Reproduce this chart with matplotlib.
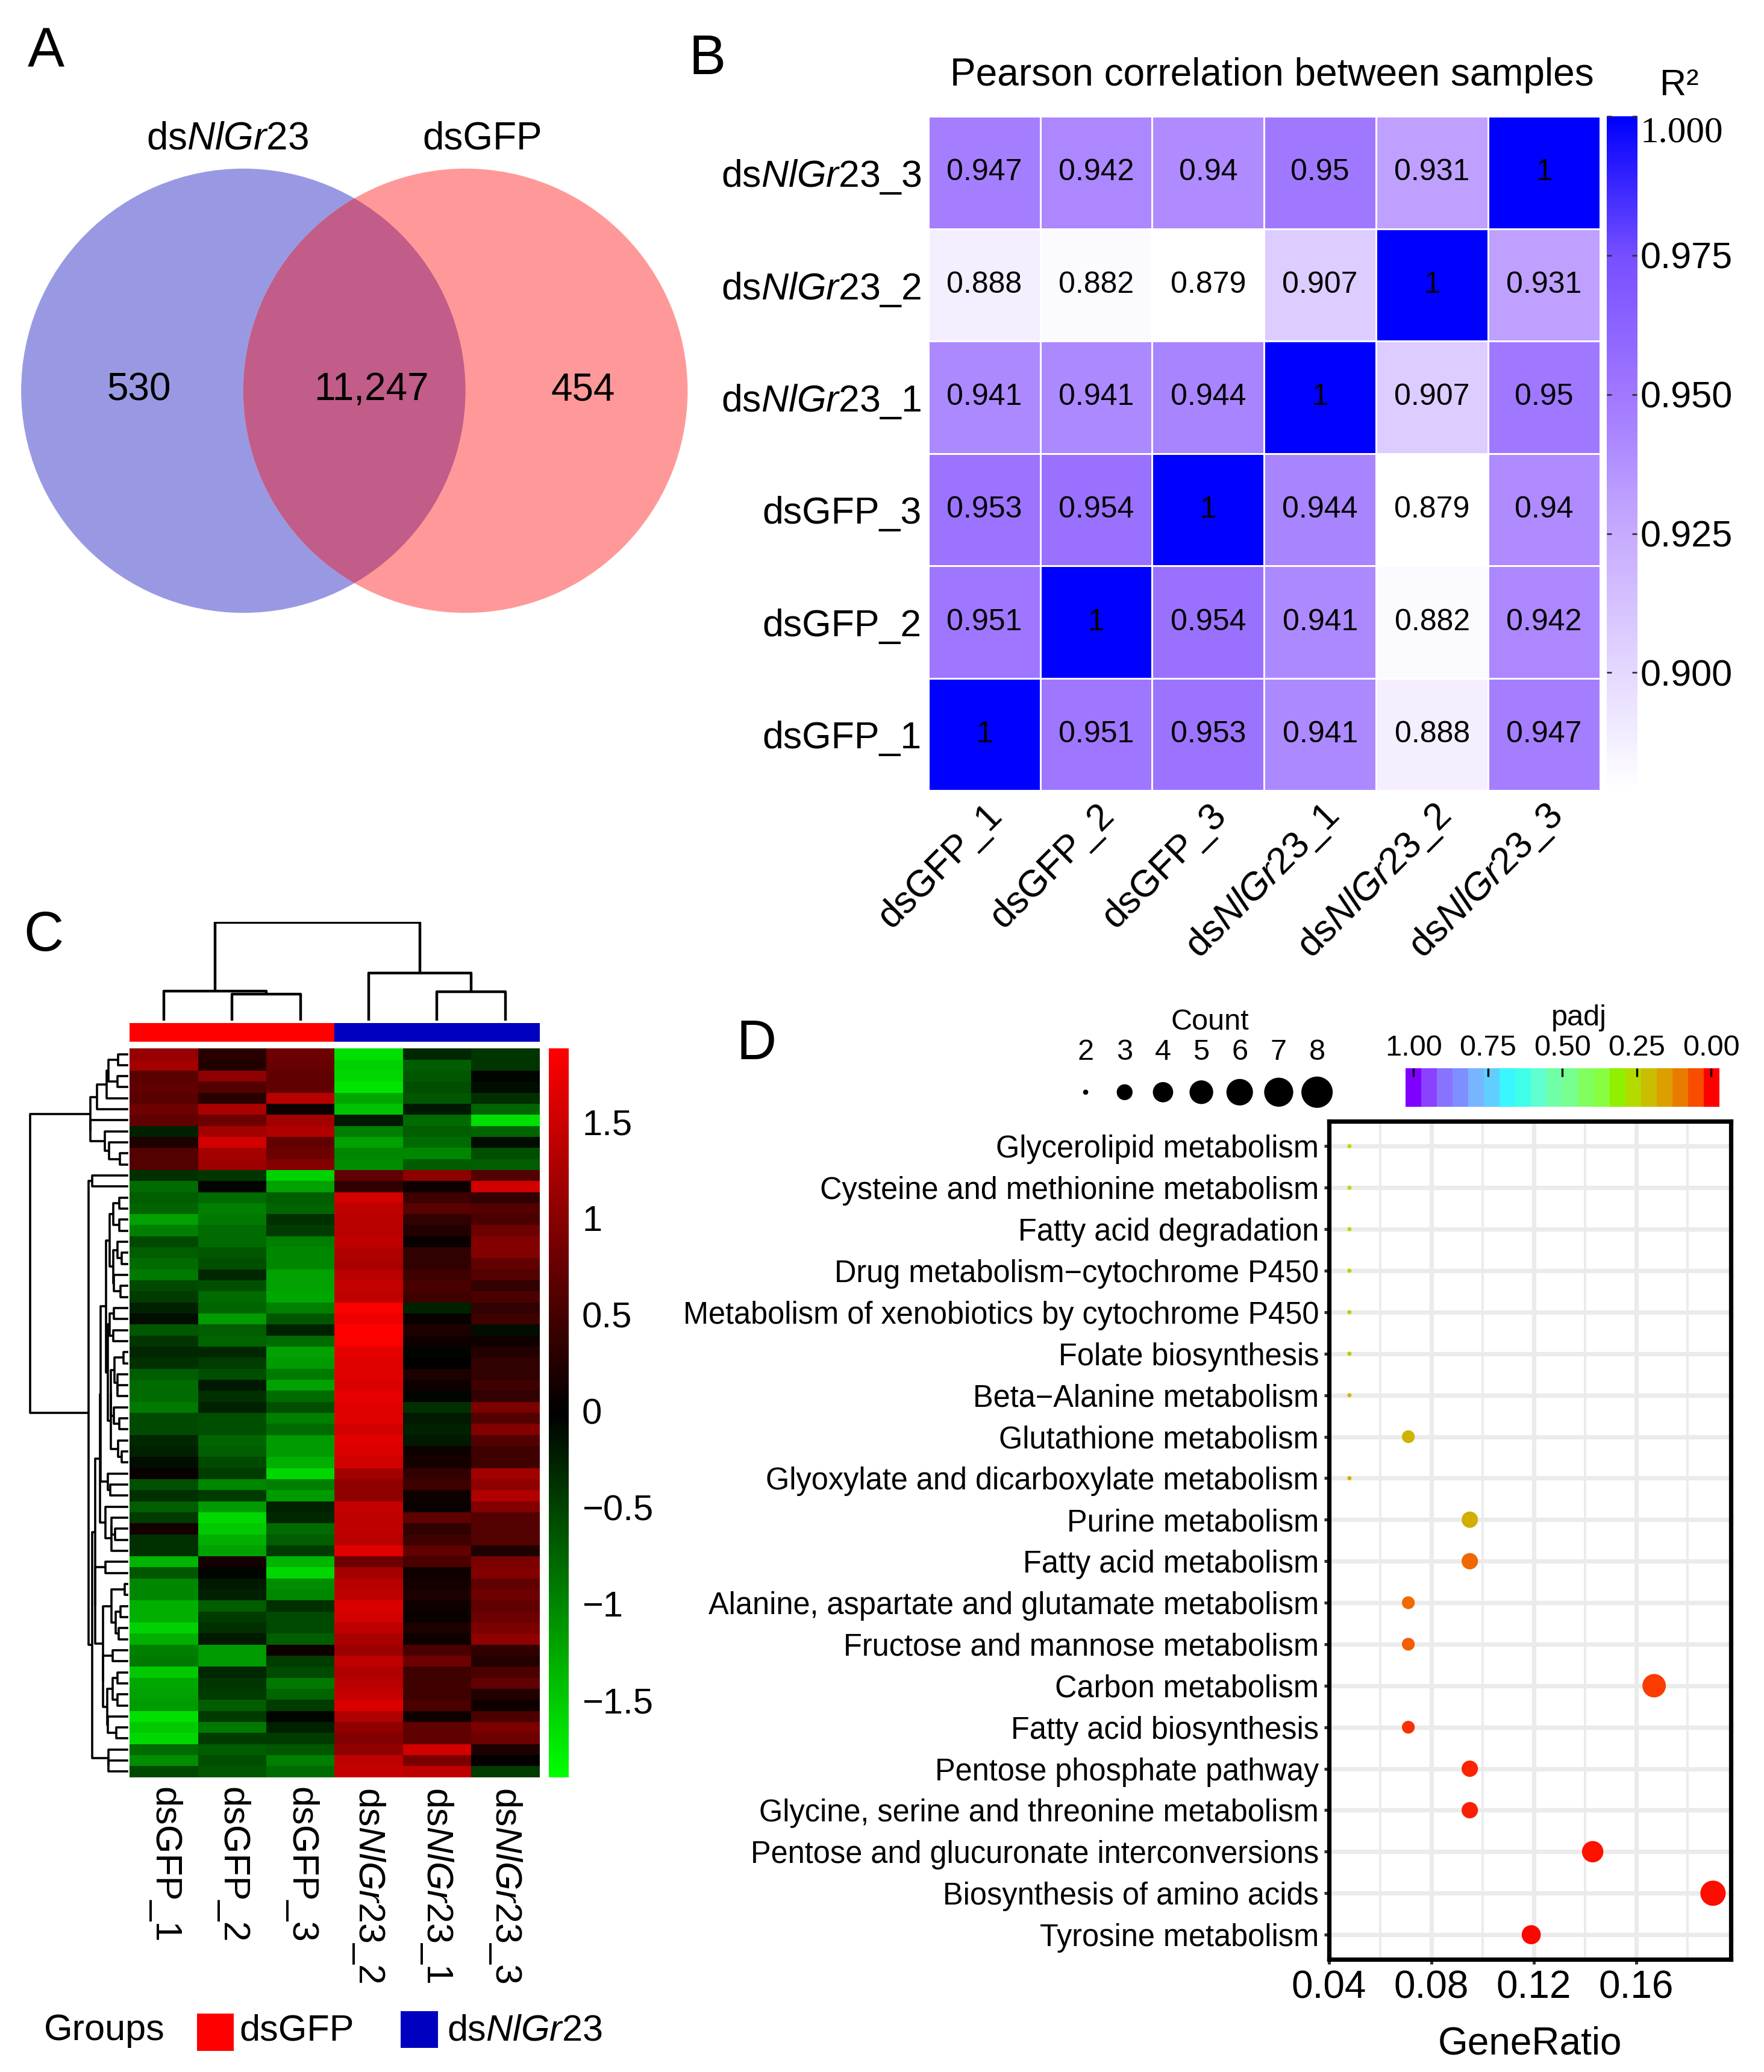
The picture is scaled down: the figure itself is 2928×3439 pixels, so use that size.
import numpy as np
import matplotlib
matplotlib.use('Agg')
import matplotlib.pyplot as plt
from matplotlib.colors import LinearSegmentedColormap
from matplotlib.patches import Circle, Rectangle

plt.rcParams['font.family'] = ['Liberation Sans', 'DejaVu Sans']
plt.rcParams['mathtext.fontset'] = 'custom'
plt.rcParams['mathtext.rm'] = 'Liberation Sans'
plt.rcParams['mathtext.it'] = 'Liberation Sans:italic'

# ---------------- data ----------------
# A: venn
venn_names = ['dsNlGr23', 'dsGFP']
venn_counts = [530, 11247, 454]   # only left, shared, only right

# B: pearson correlation
samples = ['dsGFP_1', 'dsGFP_2', 'dsGFP_3', 'dsNlGr23_1', 'dsNlGr23_2', 'dsNlGr23_3']
pearson = [
    [1, 0.951, 0.953, 0.941, 0.888, 0.947],
    [0.951, 1, 0.954, 0.941, 0.882, 0.942],
    [0.953, 0.954, 1, 0.944, 0.879, 0.94],
    [0.941, 0.941, 0.944, 1, 0.907, 0.95],
    [0.888, 0.882, 0.879, 0.907, 1, 0.931],
    [0.947, 0.942, 0.94, 0.95, 0.931, 1],
]

# C: DEG heatmap (z-scores, rows top to bottom)
heat_cols = ['dsGFP_1', 'dsGFP_2', 'dsGFP_3', 'dsNlGr23_2', 'dsNlGr23_1', 'dsNlGr23_3']
heat_groups = ['dsGFP', 'dsGFP', 'dsGFP', 'dsNlGr23', 'dsNlGr23', 'dsNlGr23']
heat_values = [
    [1.10, 0.30, 0.80, -1.65, -0.30, -0.40],
    [1.20, 0.25, 0.75, -1.55, -0.70, -0.40],
    [0.65, 1.05, 0.70, -1.60, -0.65, -0.05],
    [0.70, 0.60, 0.70, -1.70, -0.60, -0.10],
    [0.65, 0.30, 1.35, -1.25, -0.65, -0.35],
    [0.80, 1.25, 0.10, -1.45, -0.20, -0.75],
    [0.70, 0.80, 1.20, -0.20, -0.80, -1.65],
    [-0.25, 1.20, 1.30, -0.95, -0.70, -0.75],
    [0.20, 1.55, 0.70, -1.20, -0.80, -0.10],
    [0.60, 1.20, 0.80, -1.00, -1.00, -0.60],
    [0.60, 1.15, 0.95, -1.05, -0.70, -0.70],
    [-0.35, -0.40, -1.55, 0.70, 1.05, 0.60],
    [-0.80, -0.05, -1.20, 0.35, 0.10, 1.55],
    [-0.70, -0.80, -0.70, 1.55, 0.45, 0.35],
    [-0.75, -0.95, -0.75, 1.40, 0.65, 0.60],
    [-1.20, -0.90, -0.35, 1.35, 0.35, 0.55],
    [-0.95, -0.80, -0.45, 1.35, 0.25, 0.80],
    [-0.55, -0.80, -0.95, 1.40, 0.05, 0.95],
    [-0.70, -0.65, -1.00, 1.30, 0.35, 0.95],
    [-0.80, -0.60, -1.00, 1.25, 0.35, 0.70],
    [-0.90, -0.30, -1.20, 1.35, 0.45, 0.60],
    [-0.55, -0.60, -1.20, 1.45, 0.55, 0.35],
    [-0.45, -0.80, -1.25, 1.40, 0.45, 0.55],
    [-0.25, -0.75, -0.95, 1.85, -0.25, 0.35],
    [-0.10, -1.15, -0.65, 1.75, 0.05, 0.45],
    [-0.65, -0.70, -0.25, 1.88, 0.20, -0.10],
    [-0.40, -0.75, -0.80, 1.85, 0.10, 0.10],
    [-0.30, -0.30, -1.20, 1.70, -0.05, 0.25],
    [-0.35, -0.45, -1.15, 1.65, 0.00, 0.35],
    [-0.70, -0.60, -0.90, 1.65, 0.20, 0.35],
    [-0.80, -0.20, -1.20, 1.60, 0.10, 0.45],
    [-0.80, -0.35, -0.80, 1.70, -0.05, 0.35],
    [-0.90, -0.25, -0.60, 1.65, -0.35, 0.90],
    [-0.55, -0.60, -0.95, 1.65, -0.20, 0.60],
    [-0.55, -0.60, -0.80, 1.55, -0.25, 0.95],
    [-0.30, -0.75, -1.15, 1.65, -0.20, 0.60],
    [-0.25, -0.70, -1.15, 1.60, 0.10, 0.45],
    [-0.10, -0.55, -1.30, 1.55, 0.15, 0.45],
    [0.05, -0.45, -1.60, 1.20, 0.35, 1.20],
    [-0.60, -1.00, -0.95, 1.05, 0.45, 1.05],
    [-0.35, -0.45, -1.15, 1.05, 0.10, 1.30],
    [-0.70, -1.15, -0.25, 1.45, 0.05, 0.95],
    [-0.45, -1.60, -0.30, 1.40, 0.70, 0.60],
    [0.15, -1.50, -0.80, 1.40, 0.35, 0.60],
    [-0.35, -1.30, -0.70, 1.35, 0.45, 0.60],
    [-0.35, -1.20, -0.45, 1.65, 0.70, 0.20],
    [-1.35, 0.15, -1.35, 0.80, 0.55, 0.90],
    [-0.65, -0.05, -1.60, 1.20, 0.10, 0.95],
    [-1.00, -0.20, -1.05, 1.35, 0.15, 0.70],
    [-1.00, -0.25, -1.00, 1.40, 0.20, 0.80],
    [-1.30, -0.70, -0.35, 1.60, 0.10, 0.70],
    [-1.30, -0.45, -0.55, 1.55, 0.05, 0.80],
    [-1.55, -0.35, -0.55, 1.40, 0.20, 0.90],
    [-1.30, -0.20, -0.70, 1.25, 0.10, 1.05],
    [-0.95, -1.15, 0.10, 1.15, 0.55, 0.35],
    [-0.90, -1.15, -0.45, 1.40, 0.80, 0.25],
    [-1.50, -0.30, -0.55, 1.30, 0.45, 0.55],
    [-1.25, -0.40, -0.90, 1.35, 0.45, 0.70],
    [-1.20, -0.45, -0.75, 1.45, 0.45, 0.25],
    [-1.15, -0.70, -0.45, 1.60, 0.55, 0.10],
    [-1.65, -0.45, -0.05, 1.30, 0.10, 0.55],
    [-1.50, -0.90, -0.25, 1.05, 0.70, 0.90],
    [-1.60, -0.45, -0.45, 0.95, 0.70, 0.80],
    [-0.80, -0.70, -0.65, 1.05, 1.55, 0.20],
    [-1.05, -0.60, -0.95, 1.40, 0.90, 0.00],
    [-0.55, -0.65, -0.80, 1.45, 1.40, -0.45],
]
# column tree: (left, right, height); leaves 0-5, new nodes from 6
col_tree = [(1, 2, 20), (0, 6, 22.5), (4, 5, 22), (3, 8, 36), (7, 9, 74)]

# D: KEGG enrichment
pathways = [
    'Glycerolipid metabolism',
    'Cysteine and methionine metabolism',
    'Fatty acid degradation',
    'Drug metabolism\u2212cytochrome P450',
    'Metabolism of xenobiotics by cytochrome P450',
    'Folate biosynthesis',
    'Beta\u2212Alanine metabolism',
    'Glutathione metabolism',
    'Glyoxylate and dicarboxylate metabolism',
    'Purine metabolism',
    'Fatty acid metabolism',
    'Alanine, aspartate and glutamate metabolism',
    'Fructose and mannose metabolism',
    'Carbon metabolism',
    'Fatty acid biosynthesis',
    'Pentose phosphate pathway',
    'Glycine, serine and threonine metabolism',
    'Pentose and glucuronate interconversions',
    'Biosynthesis of amino acids',
    'Tyrosine metabolism',
]
gene_count = [2, 2, 2, 2, 2, 2, 2, 3, 2, 4, 4, 3, 3, 7, 3, 4, 4, 6, 8, 5]
gene_ratio = [0.048, 0.048, 0.048, 0.048, 0.048, 0.048, 0.048, 0.071, 0.048, 0.095,
              0.095, 0.071, 0.071, 0.167, 0.071, 0.095, 0.095, 0.143, 0.190, 0.119]
padj = [0.27, 0.27, 0.27, 0.24, 0.24, 0.22, 0.20, 0.19, 0.18, 0.18,
        0.08, 0.085, 0.07, 0.04, 0.035, 0.025, 0.02, 0.015, 0.008, 0.004]

# ---------------- colours ----------------
cmap_r2 = LinearSegmentedColormap.from_list('r2', [
    (0.0, 'white'), (0.23, '#DCCCFF'), (0.43, '#BFA0FF'), (0.51, '#AE8AFF'),
    (0.61, '#9C73FF'), (0.79, '#7850FF'), (1.0, '#0000FF')])
cmap_rg = LinearSegmentedColormap.from_list('rg', ['#00FF00', 'black', '#FF0000'])
padj_stops = ['#FF0000', '#F85000', '#E88000', '#DCA000', '#C8C000', '#B4DC00', '#90F000',
              '#88FF40', '#80FF60', '#78FF90', '#70FFA8', '#60FFD0', '#40FFE8', '#38F8FF',
              '#60D0FF', '#78B8FF', '#7F90FF', '#8877FF', '#8B45FF', '#8000FF']
cmap_padj = LinearSegmentedColormap.from_list('padj', padj_stops)
group_colors = {'dsGFP': '#FF0000', 'dsNlGr23': '#0000C0'}


def nl(s):
    return s.replace('NlGr23', r'$\mathit{NlGr23}$')


W, H = 1334.0, 1567.0


def rect(x0, y0, x1, y1):
    return [x0 / W, 1 - y1 / H, (x1 - x0) / W, (y1 - y0) / H]


def adjacent_linkage(rows):
    X = np.asarray(rows, float)
    clusters = [[i] for i in range(len(X))]
    ids = list(range(len(X)))
    nxt = len(X)
    merges = []
    while len(clusters) > 1:
        best = None
        for k in range(len(clusters) - 1):
            d = np.mean([np.linalg.norm(X[i] - X[j]) for i in clusters[k] for j in clusters[k + 1]])
            if best is None or d < best[0]:
                best = (d, k)
        d, k = best
        merges.append((ids[k], ids[k + 1], d))
        clusters[k:k + 2] = [clusters[k] + clusters[k + 1]]
        ids[k:k + 2] = [nxt]
        nxt += 1
    return merges


def draw_tree(ax, merges, n, top=True):
    pos = {i: i + 0.5 for i in range(n)}
    hgt = {i: 0.0 for i in range(n)}
    node = n
    h = 0
    for a, b, h in merges:
        h = max(h, hgt[a], hgt[b])
        xs = [pos[a], pos[a], pos[b], pos[b]]
        ys = [hgt[a], h, h, hgt[b]]
        if top:
            ax.plot(xs, ys, color='black', lw=1.6, solid_capstyle='butt')
        else:
            ax.plot(ys, xs, color='black', lw=1.3, solid_capstyle='butt')
        pos[node] = (pos[a] + pos[b]) / 2
        hgt[node] = h
        node += 1
    return h


fig = plt.figure(figsize=(14.64, 17.195), dpi=200)

# ---------------- B ----------------
pm = np.array(pearson)
r2_min = pm.min()
axb = fig.add_axes(rect(702, 88, 1210, 598))
axb.pcolormesh(pm, cmap=cmap_r2, vmin=r2_min, vmax=1.0, edgecolors='white', linewidth=1.0)
for i in range(6):
    for j in range(6):
        axb.text(j + 0.5, i + 0.5, f'{pm[i, j]:g}', ha='center', va='center', fontsize=18)
axb.set_xlim(0, 6)
axb.set_ylim(0, 6)
axb.set_yticks(np.arange(6) + 0.5)
axb.set_yticklabels([nl(s) for s in samples], fontsize=22.5)
axb.set_xticks(np.arange(6) + 0.5)
axb.set_xticklabels([nl(s) for s in samples], fontsize=22.5, rotation=45,
                    ha='right', va='top', rotation_mode='anchor')
axb.tick_params(length=0, pad=4)
for sp in axb.spines.values():
    sp.set_visible(False)

caxb = fig.add_axes(rect(1215, 88, 1238, 597))
caxb.imshow(np.linspace(r2_min, 1, 256)[:, None], aspect='auto', cmap=cmap_r2,
            vmin=r2_min, vmax=1, origin='lower', extent=(0, 1, r2_min, 1.0))
caxb.set_xticks([])
caxb.yaxis.tick_right()
caxb.set_yticks([0.9, 0.925, 0.95, 0.975, 1.0])
caxb.set_yticklabels(['0.900', '0.925', '0.950', '0.975', '1.000'], fontsize=22)
top_lab = caxb.get_yticklabels()[-1]
top_lab.set_family(['Liberation Serif', 'DejaVu Serif'])
top_lab.set_verticalalignment('top')
caxb.tick_params(axis='y', direction='in', left=True, right=True, length=3,
                 width=1, color='#333333', pad=2)
for sp in caxb.spines.values():
    sp.set_visible(False)

# ---------------- C ----------------
hv = np.array(heat_values)
nrow = hv.shape[0]
c_lo, c_hi = -1.9, 1.88
axc = fig.add_axes(rect(98, 793, 408, 1344))
axc.pcolormesh(hv, cmap=cmap_rg, vmin=c_lo, vmax=c_hi)
axc.set_xlim(0, 6)
axc.set_ylim(nrow, 0)
axc.axis('off')
for j, name in enumerate(heat_cols):
    axc.text(j + 0.5, nrow + 0.9, nl(name), rotation=-90, rotation_mode='anchor',
             ha='left', va='center', fontsize=22)

axg = fig.add_axes(rect(98, 773.5, 408, 788))
for j, g in enumerate(heat_groups):
    axg.add_patch(Rectangle((j, 0), 1, 1, color=group_colors[g], lw=0))
axg.set_xlim(0, 6)
axg.set_ylim(0, 1)
axg.axis('off')

axct = fig.add_axes(rect(98, 697, 408, 772))
col_top = draw_tree(axct, col_tree, 6, top=True)
axct.set_xlim(0, 6)
axct.set_ylim(0, col_top + 0.5)
axct.axis('off')

row_tree = adjacent_linkage(heat_values)
axrt = fig.add_axes(rect(22, 793, 97, 1344))
row_top = draw_tree(axrt, row_tree, nrow, top=False)
axrt.set_ylim(nrow, 0)
axrt.set_xlim(row_top * 1.01, 0)
axrt.axis('off')

caxc = fig.add_axes(rect(415, 793, 430, 1344))
caxc.imshow(np.linspace(c_lo, c_hi, 256)[:, None], aspect='auto', cmap=cmap_rg,
            vmin=c_lo, vmax=c_hi, origin='lower', extent=(0, 1, c_lo, c_hi))
caxc.set_xticks([])
caxc.yaxis.tick_right()
c_ticks = [-1.5, -1, -0.5, 0, 0.5, 1, 1.5]
caxc.set_yticks(c_ticks)
caxc.set_yticklabels([f'{t:g}'.replace('-', '\u2212') for t in c_ticks], fontsize=21.5)
caxc.tick_params(axis='y', length=0, pad=8)
for sp in caxc.spines.values():
    sp.set_visible(False)

# ---------------- D ----------------
n_pw = len(pathways)
ypos = np.arange(n_pw, 0, -1)
cnt = np.array(gene_count, float)


def dot_pt(c, scale=1.0):
    return scale * (2.5 + 12.6 * np.sqrt((np.asarray(c, float) - 2) / 6))


axd = fig.add_axes(rect(1005, 848, 1309, 1482))
axd.scatter(gene_ratio, ypos, s=dot_pt(cnt) ** 2, c=padj, cmap=cmap_padj, vmin=0, vmax=1,
            linewidths=0, zorder=3)
axd.set_xlim(0.04, 0.197)
axd.set_ylim(0.4, n_pw + 0.6)
axd.set_xticks([0.04, 0.08, 0.12, 0.16])
axd.set_xticklabels(['0.04', '0.08', '0.12', '0.16'], fontsize=23)
axd.set_xticks([0.06, 0.10, 0.14, 0.18], minor=True)
axd.set_yticks(ypos)
axd.set_yticklabels(pathways, fontsize=18.2)
axd.set_axisbelow(True)
axd.grid(True, which='major', color='#EBEBEB', linewidth=2.6)
axd.grid(True, which='minor', axis='x', color='#EBEBEB', linewidth=1.4)
axd.tick_params(which='major', length=3, width=1.8, color='#333333', pad=3)
axd.tick_params(which='minor', length=0)
for sp in axd.spines.values():
    sp.set_linewidth(2.6)
axd.set_xlabel('GeneRatio', fontsize=23, labelpad=12)

caxd = fig.add_axes(rect(1063, 808, 1300, 837))
half = 0.5 / 19
caxd.imshow(np.linspace(1, 0, 20)[None, :], aspect='auto', cmap=cmap_padj, vmin=0, vmax=1,
            extent=(1 + half, -half, 0, 1))
caxd.set_xlim(1 + half, -half)
caxd.set_yticks([])
caxd.set_xticks([1, 0.75, 0.5, 0.25, 0])
caxd.set_xticklabels(['1.00', '0.75', '0.50', '0.25', '0.00'], fontsize=17.5)
caxd.tick_params(axis='x', top=True, bottom=False, labeltop=True, labelbottom=False,
                 direction='in', length=5, width=1.2, color='black', pad=4)
for sp in caxd.spines.values():
    sp.set_visible(False)

# ---------------- overlay: A, letters, legends ----------------
ov = fig.add_axes([0, 0, 1, 1])
ov.set_xlim(0, W)
ov.set_ylim(H, 0)
ov.axis('off')

left = Circle((184, 295.5), 168, color='#9999E3', lw=0)
right = Circle((352, 295.5), 168, color='#FF9999', lw=0)
ov.add_patch(left)
ov.add_patch(right)
both = Circle((352, 295.5), 168, color='#C25C88', lw=0)
ov.add_patch(both)
both.set_clip_path(left)
ov.text(172, 105, nl(venn_names[0]), ha='center', va='center', fontsize=23)
ov.text(365, 105, venn_names[1], ha='center', va='center', fontsize=23)
ov.text(105, 295, f'{venn_counts[0]:,}', ha='center', va='center', fontsize=23)
ov.text(281, 295, f'{venn_counts[1]:,}', ha='center', va='center', fontsize=23)
ov.text(441, 295, f'{venn_counts[2]:,}', ha='center', va='center', fontsize=23)

for lab, x, y in [('A', 35, 40), ('B', 535, 45), ('C', 33, 708), ('D', 572, 790)]:
    ov.text(x, y, lab, ha='center', va='center', fontsize=33)

ov.text(962, 57, 'Pearson correlation between samples', ha='center', va='center', fontsize=23)
ov.text(1270, 65, 'R\u00b2', ha='center', va='center', fontsize=22)

# group legend of C
ov.text(33, 1536, 'Groups', ha='left', va='center', fontsize=22)
ov.add_patch(Rectangle((149, 1523), 28, 28, color=group_colors['dsGFP'], lw=0))
ov.text(181, 1536, 'dsGFP', ha='left', va='center', fontsize=22)
ov.add_patch(Rectangle((303, 1521), 28, 28, color=group_colors['dsNlGr23'], lw=0))
ov.text(338, 1536, nl('dsNlGr23'), ha='left', va='center', fontsize=22)

# count legend of D
leg_counts = [2, 3, 4, 5, 6, 7, 8]
leg_x = [821, 850.5, 879.5, 908.5, 937.5, 967, 996]
ov.text(915, 773, 'Count', ha='center', va='center', fontsize=17.5)
for c, x in zip(leg_counts, leg_x):
    ov.text(x, 796, str(c), ha='center', va='center', fontsize=17.5)
ov.scatter(leg_x, [826] * len(leg_x), s=dot_pt(leg_counts, 1.24) ** 2, color='black', linewidths=0)
ov.text(1194, 770, 'padj', ha='center', va='center', fontsize=17.5)

fig.savefig('out.png', dpi=200)
